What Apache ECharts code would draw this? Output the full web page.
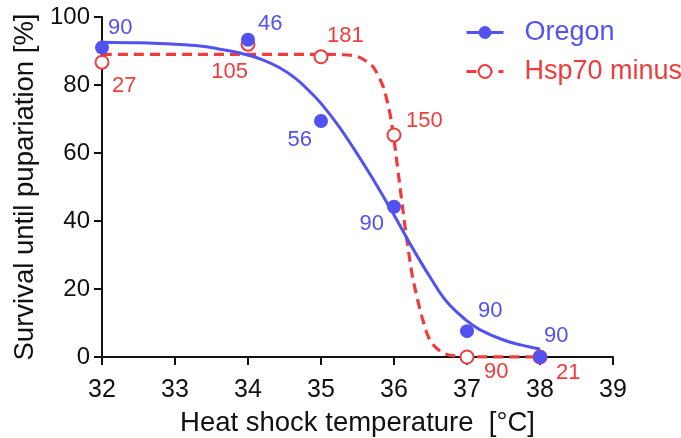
<!DOCTYPE html>
<html><head><meta charset="utf-8">
<script src="https://cdn.jsdelivr.net/npm/echarts@6/dist/echarts.min.js"></script>
<style>html,body{margin:0;padding:0;background:#fff}#c{width:681px;height:438px}</style>
</head><body><div id="c"></div>
<script>
// ---- data ----
const temps = [32, 34, 35, 36, 37, 38];
const oregonSurvival = [91.0, 93.3, 69.4, 44.2, 7.6, 0];
const oregonN = [90, 46, 56, 90, 90, 90];
const hspSurvival = [86.7, 92.0, 88.3, 65.3, 0, 0];
const hspN = [27, 105, 181, 150, 90, 21];

// fitted curves
const oregonFitX = [32, 32.5, 33, 33.34, 33.6, 33.89, 34.2, 34.44, 34.66, 34.85, 35.0, 35.23, 35.45, 35.67, 35.9, 36.06, 36.26, 36.5, 36.72, 37.0, 37.18, 37.5, 37.75, 37.96, 38.0];
const oregonFitY = [92.6, 92.4, 92.0, 91.5, 90.6, 89.4, 87.4, 85.0, 81.8, 78.0, 74.6, 68.3, 61.3, 53.8, 45.5, 39.5, 31.8, 23.3, 16.3, 10.6, 8.0, 5.0, 3.5, 2.5, 2.3];
const hspFitX = [32, 33, 34, 35, 35.3, 35.45, 35.55, 35.65, 35.72, 35.8, 35.85, 35.9, 35.95, 36.0, 36.05, 36.1, 36.15, 36.2, 36.25, 36.3, 36.35, 36.4, 36.47, 36.55, 36.65, 36.75, 36.9, 37.0, 38.0];
const hspFitY = [89.0, 89.0, 89.0, 89.0, 88.9, 88.6, 87.9, 86.5, 85.2, 82.0, 79.6, 75.8, 71.0, 64.0, 55.5, 47.0, 38.5, 31.0, 24.0, 19.0, 14.5, 10.5, 6.0, 3.3, 1.5, 0.6, 0.2, 0.1, 0.0];

const seriesNames = ['Oregon', 'Hsp70 minus'];
const xAxisTitle = 'Heat shock temperature  [°C]';
const yAxisTitle = 'Survival until pupariation [%]';

// ---- label placement (align, dx, dy) ----
const oregonLabelPlace = [['left', 6, -20], ['left', 10, -16], ['right', -9, 19], ['right', -10, 17], ['left', 11, -20], ['left', 4, -21]];
const hspLabelPlace = [['left', 10, 24], ['right', 0, 28], ['left', 6, -21], ['left', 12, -14], ['left', 17, 15], ['left', 16, 16]];

const BLUE = '#5252F0';
const RED = '#F03C3C';
const FONT = '"Liberation Sans", Arial, sans-serif';

function pts(xs, ys) { return xs.map((x, i) => [x, ys[i]]); }
function labeled(xs, ys, ns, place) {
  return xs.map((x, i) => ({
    value: [x, ys[i]],
    label: { align: place[i][0], offset: [place[i][1], place[i][2]], formatter: String(ns[i]) }
  }));
}

const chart = echarts.init(document.getElementById('c'), null, { renderer: 'canvas' });
chart.setOption({
  animation: false,
  backgroundColor: '#fff',
  grid: { left: 102, right: 68, top: 17, bottom: 81, containLabel: false, outerBoundsMode: 'none' },
  legend: {
    orient: 'vertical', left: 465, top: 18, padding: 0, itemGap: 10,
    itemWidth: 37, itemHeight: 16,
    lineStyle: { width: 3 },
    textStyle: { fontSize: 27, fontFamily: FONT, lineHeight: 29, padding: [0, 0, 0, 16] },
    data: [
      { name: seriesNames[0], textStyle: { color: BLUE } },
      { name: seriesNames[1], textStyle: { color: RED } }
    ]
  },
  xAxis: {
    type: 'value', min: 32, max: 39, interval: 1,
    name: xAxisTitle, nameLocation: 'middle', nameGap: 52,
    nameTextStyle: { fontSize: 27.5, fontFamily: FONT, color: '#111' },
    axisLine: { lineStyle: { color: '#111', width: 2 } },
    axisTick: { show: true, length: 8, lineStyle: { color: '#111', width: 2 } },
    axisLabel: { fontSize: 25, fontFamily: FONT, color: '#111', margin: 21 },
    splitLine: { show: false }
  },
  yAxis: {
    type: 'value', min: 0, max: 100, interval: 20,
    name: yAxisTitle, nameLocation: 'middle', nameGap: 50,
    nameTextStyle: { fontSize: 27.5, fontFamily: FONT, color: '#111' },
    axisLine: { show: true, lineStyle: { color: '#111', width: 2 } },
    axisTick: { show: true, length: 8, lineStyle: { color: '#111', width: 2 } },
    axisLabel: { fontSize: 24, fontFamily: FONT, color: '#111', margin: 12 },
    splitLine: { show: false }
  },
  series: [
    {
      name: seriesNames[1], type: 'line', data: pts(hspFitX, hspFitY),
      smooth: 0.35, showSymbol: false, symbol: 'emptyCircle', symbolSize: 13, clip: false,
      lineStyle: { color: RED, width: 3.2, type: [10, 6] },
      itemStyle: { color: RED, borderWidth: 2 }, z: 2
    },
    {
      name: seriesNames[0], type: 'line', data: pts(oregonFitX, oregonFitY),
      smooth: 0.4, showSymbol: false, symbol: 'circle', symbolSize: 14, clip: false,
      lineStyle: { color: BLUE, width: 3 },
      itemStyle: { color: BLUE }, z: 3
    },
    {
      name: 'hsp points', type: 'scatter', data: labeled(temps, hspSurvival, hspN, hspLabelPlace),
      symbol: 'circle', symbolSize: 13, clip: false,
      itemStyle: { color: '#fff', borderColor: RED, borderWidth: 2, opacity: 1 },
      label: { show: true, position: 'inside', verticalAlign: 'middle', color: RED, fontSize: 22, fontFamily: FONT, opacity: 1 },
      z: 4
    },
    {
      name: 'oregon points', type: 'scatter', data: labeled(temps, oregonSurvival, oregonN, oregonLabelPlace),
      symbol: 'circle', symbolSize: 14, clip: false,
      itemStyle: { color: BLUE, opacity: 1 },
      label: { show: true, position: 'inside', verticalAlign: 'middle', color: BLUE, fontSize: 22, fontFamily: FONT, opacity: 1 },
      z: 5
    }
  ]
});
</script></body></html>
